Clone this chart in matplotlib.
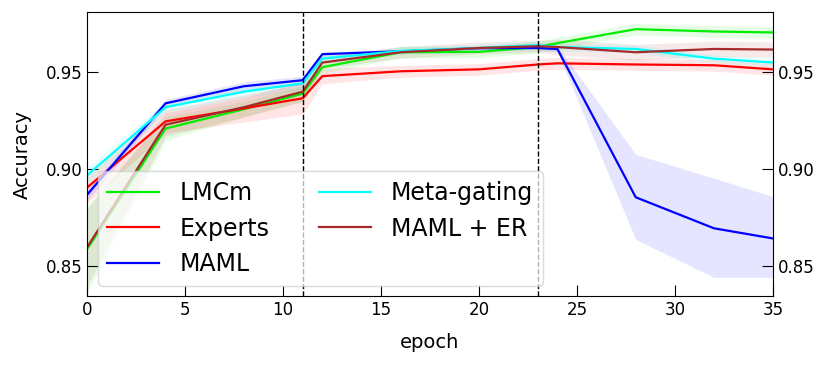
import numpy as np
import matplotlib.pyplot as plt

epochs = [0, 4, 8, 11, 12, 16, 20, 23, 24, 28, 32, 35]

lmcm = [0.859, 0.921, 0.931, 0.939, 0.9526, 0.9603, 0.9605, 0.963, 0.965, 0.9722, 0.971, 0.9705]
lmcm_std = [0.022, 0.006, 0.004, 0.004, 0.003, 0.003, 0.003, 0.003, 0.003, 0.003, 0.003, 0.003]

experts = [0.8907, 0.9247, 0.9314, 0.9366, 0.948, 0.9505, 0.9515, 0.954, 0.9546, 0.954, 0.9536, 0.9515]
experts_std = [0.008, 0.006, 0.007, 0.008, 0.004, 0.003, 0.003, 0.003, 0.003, 0.003, 0.003, 0.003]

maml = [0.887, 0.934, 0.9428, 0.9459, 0.9593, 0.9608, 0.9624, 0.9625, 0.962, 0.8856, 0.8696, 0.8644]
maml_lo = [0.884, 0.932, 0.9405, 0.9435, 0.958, 0.960, 0.9615, 0.9615, 0.9605, 0.8639, 0.8443, 0.8443]
maml_hi = [0.890, 0.936, 0.945, 0.948, 0.9605, 0.9618, 0.9633, 0.9635, 0.9635, 0.9077, 0.8954, 0.886]

meta = [0.897, 0.932, 0.940, 0.9443, 0.957, 0.961, 0.9625, 0.964, 0.963, 0.962, 0.957, 0.955]
meta_std = [0.004, 0.003, 0.003, 0.003, 0.002, 0.002, 0.002, 0.002, 0.002, 0.002, 0.002, 0.002]

maml_er = [0.860, 0.923, 0.932, 0.940, 0.955, 0.9603, 0.9625, 0.9634, 0.963, 0.9603, 0.962, 0.9617]
maml_er_std = [0.02, 0.006, 0.005, 0.005, 0.003, 0.003, 0.003, 0.003, 0.004, 0.004, 0.004, 0.004]

task_switches = [11, 23]

fig, ax = plt.subplots(figsize=(8.31, 3.66), dpi=100)
ep = np.array(epochs)

def band(mean, std, color, label):
    m = np.array(mean)
    s = np.array(std)
    ax.plot(ep, m, color=color, lw=1.6, label=label)
    ax.fill_between(ep, m - s, m + s, color=color, alpha=0.1, lw=0)

band(lmcm, lmcm_std, '#00ee00', 'LMCm')
band(experts, experts_std, 'red', 'Experts')
ax.plot(ep, maml, color='blue', lw=1.6, label='MAML')
ax.fill_between(ep, maml_lo, maml_hi, color='blue', alpha=0.1, lw=0)
band(meta, meta_std, 'cyan', 'Meta-gating')
band(maml_er, maml_er_std, 'brown', 'MAML + ER')

for x in task_switches:
    ax.axvline(x, color='black', ls='--', lw=1)

ax.set_xlim(0, 35)
ax.set_ylim(0.8345, 0.981)
ax.set_xticks([0, 5, 10, 15, 20, 25, 30, 35])
ax.set_yticks([0.85, 0.90, 0.95])
ax.set_xlabel('epoch', fontsize=14, labelpad=10)
ax.set_ylabel('Accuracy', fontsize=14, labelpad=10)
ax.tick_params(direction='in', length=8, labelsize=12, right=True, labelright=True)

ax.legend(loc='lower left', ncol=2, fontsize=17, borderaxespad=0.45, framealpha=0.7,
          handlelength=2.2, handletextpad=0.85, columnspacing=2.1, labelspacing=0.5)

fig.subplots_adjust(left=0.105, right=0.93, top=0.967, bottom=0.19)
fig.savefig('out.png', dpi=100)
